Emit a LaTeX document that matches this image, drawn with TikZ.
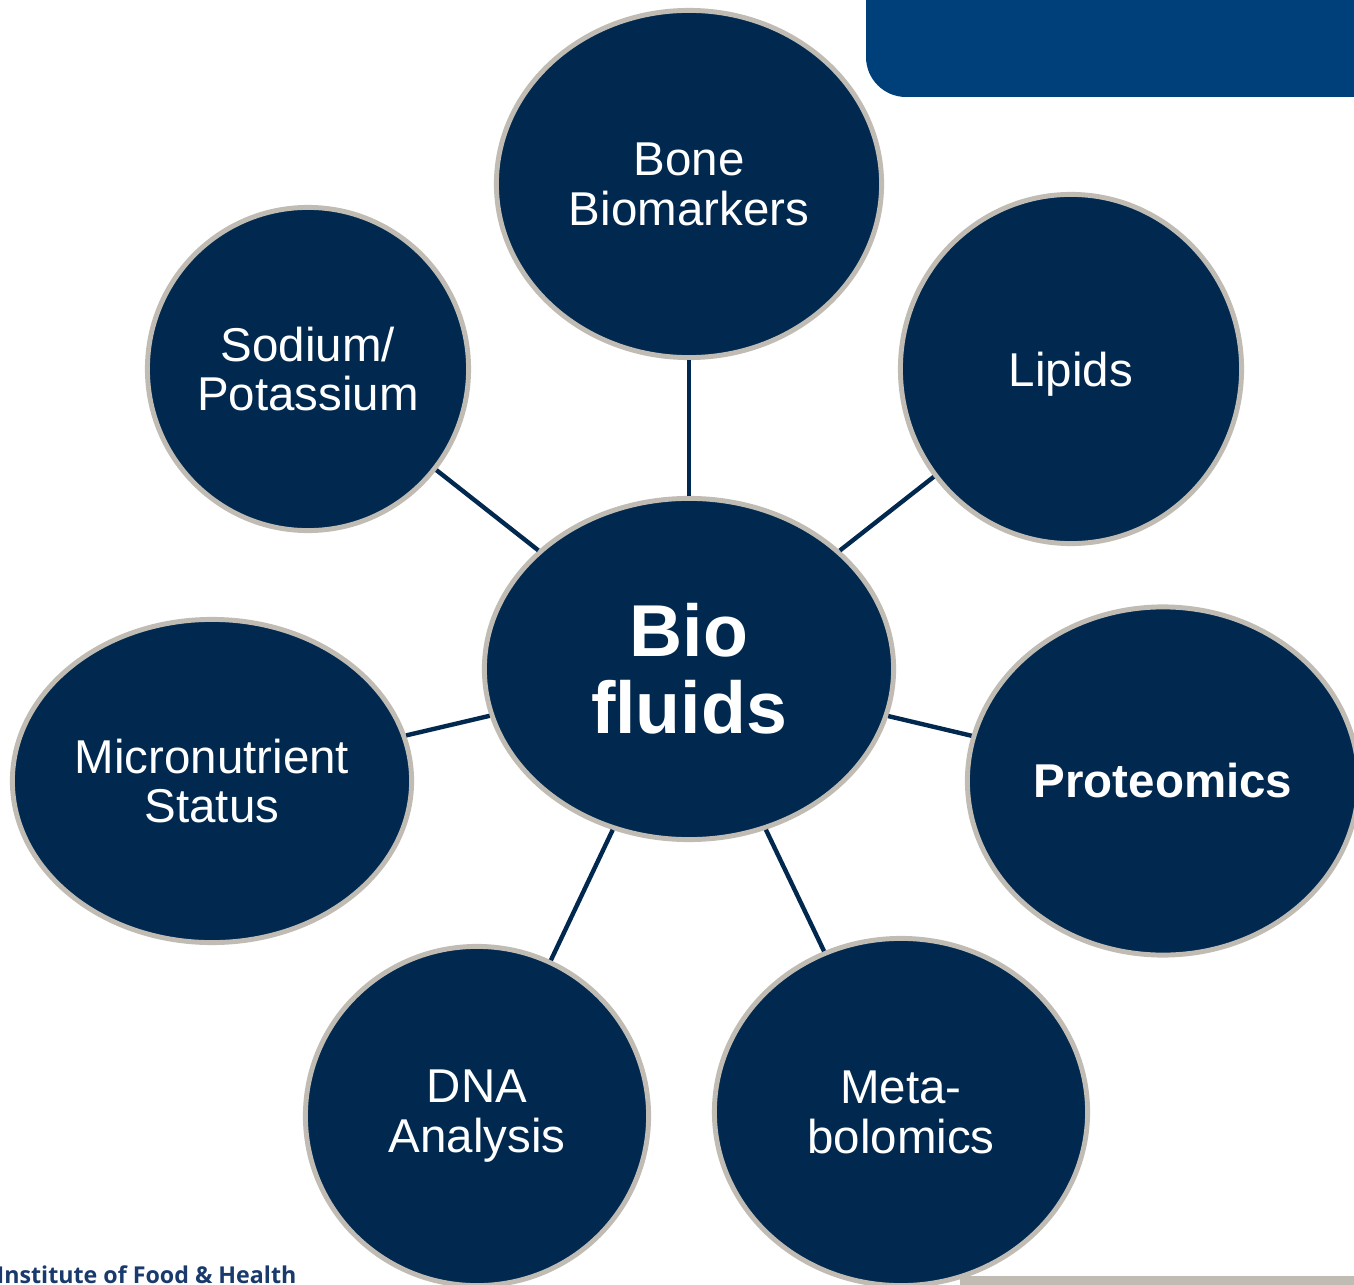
\documentclass[tikz,border=0pt]{standalone}
\usepackage{fontspec}
\setmainfont{Liberation Sans}
\newfontfamily\logofont{Open Sans}
\usetikzlibrary{shapes.geometric}
\definecolor{navy}{RGB}{1,41,79}
\definecolor{banner}{RGB}{0,64,122}
\definecolor{rim}{RGB}{192,188,180}
\definecolor{logoblue}{RGB}{24,58,108}
\begin{document}
\begin{tikzpicture}[x=0.01cm,y=-0.01cm]
    \tikzstyle{topic}=[ellipse,fill=navy,draw=rim,line width=1.4pt,inner sep=0pt,
                       text=white,align=center,font=\fontsize{13.5}{14.2}\selectfont]
    \tikzstyle{link}=[navy,line width=1.25pt]
    \useasboundingbox (0,0) rectangle (1354,1285);
    \fill[white] (0,0) rectangle (1354,1285);

    % header band and footer rule
    \fill[banner,rounded corners=0.4cm] (866,-60) rectangle (1420,97);
    \fill[rim] (960,1276) rectangle (1360,1290);
    \node[anchor=base west,text=logoblue,inner sep=0pt,font=\logofont\bfseries\fontsize{6.6}{6.6}\selectfont]
        (inst) at (-4,1283) {Institute of Food \& Health};

    \node[topic,minimum width=4.09cm,minimum height=3.41cm,
          font=\bfseries\fontsize{20.9}{21.8}\selectfont] (bio) at (689,669) {Bio\\fluids};
    \node[topic,minimum width=3.85cm,minimum height=3.47cm] (bone) at (689,184) {Bone\\Biomarkers};
    \node[topic,minimum width=3.41cm,minimum height=3.49cm,text depth=0pt] (lipids) at (1071,369) {Lipids};
    \node[topic,minimum width=3.21cm,minimum height=3.23cm] (sodium) at (308,369) {Sodium/\\Potassium};
    \node[topic,minimum width=3.99cm,minimum height=3.23cm] (micro) at (212,781) {Micronutrient\\Status};
    \node[topic,minimum width=3.91cm,minimum height=3.48cm,font=\bfseries\fontsize{13.5}{14.2}\selectfont]
        (prot) at (1163,781) {Proteomics};
    \node[topic,minimum width=3.43cm,minimum height=3.39cm] (dna) at (477,1116) {DNA\\Analysis};
    \node[topic,minimum width=3.73cm,minimum height=3.47cm] (meta) at (901,1112) {Meta-\\bolomics};

    \foreach \n in {bone,lipids,sodium,micro,prot,dna,meta}
        \draw[link] (bio) -- (\n);
\end{tikzpicture}
\end{document}
